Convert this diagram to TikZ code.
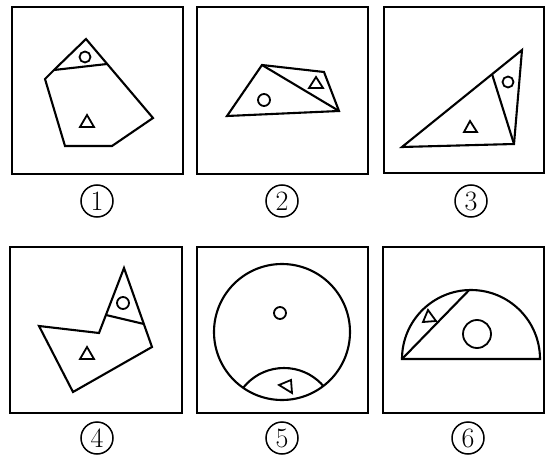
\documentclass[tikz,border=0pt]{standalone}
\begin{document}
\begin{tikzpicture}[x=1pt,y=-1pt,
  frame/.style={line width=2.6pt},
  shp/.style={line width=2.1pt,line join=miter},
  sym/.style={line width=1.8pt},
  lbl/.style={circle,draw,line width=1.5pt,minimum size=32pt,inner sep=0pt,font=\fontsize{28}{28}\selectfont}]
\useasboundingbox (0,0) rectangle (546,457);
% frames
\draw[frame] (12,7) rectangle (183,174);
\draw[frame] (197,7) rectangle (368,174);
\draw[frame] (384,7) rectangle (544,173);
\draw[frame] (10,247) rectangle (182,413);
\draw[frame] (197,247) rectangle (368,413);
\draw[frame] (383,247) rectangle (544,413);
% labels
\node[lbl] (l1) at (97,201) {1};
\node[lbl] (l2) at (282,201) {2};
\node[lbl] (l3) at (471,201) {3};
\node[lbl] (l4) at (97,438) {4};
\node[lbl] (l5) at (282,438) {5};
\node[lbl] (l6) at (468,438) {6};
% panel 1
\draw[shp] (86,39) -- (153,118) -- (112,146) -- (65,146) -- (45,79) -- (54,70) -- cycle;
\draw[shp] (54,70) -- (107,64);
\draw[sym] (85,57) circle (5.5);
\draw[sym] (80,127) -- (94,127) -- (87,115) -- cycle;
% panel 2
\draw[shp] (262,65) -- (324,72) -- (339,111) -- (227,116) -- cycle;
\draw[shp] (262,65) -- (339,111);
\draw[sym] (264,100) circle (6);
\draw[sym] (309,88) -- (323,88) -- (316,77) -- cycle;
% panel 3
\draw[shp] (522,50) -- (514,144) -- (402,147) -- cycle;
\draw[shp] (492,74) -- (514,144);
\draw[sym] (508,82) circle (5.5);
\draw[sym] (464,132) -- (477,132) -- (470,121) -- cycle;
% panel 4
\draw[shp] (124,268) -- (152,347) -- (73,392) -- (39,326) -- (99,333) -- cycle;
\draw[shp] (106,315) -- (144,324);
\draw[sym] (123,303) circle (6);
\draw[sym] (80,359) -- (94,359) -- (87,347) -- cycle;
% panel 5
\draw[shp] (282,332) circle (68);
\begin{scope}
\clip (282,332) circle (68);
\draw[shp] (284,420) circle (52);
\end{scope}
\draw[sym] (280,313) circle (6);
\draw[sym] (279,385) -- (291,380) -- (292,393) -- cycle;
% panel 6
\draw[shp] (540,359) arc[start angle=0,end angle=-180,radius=69] -- cycle;
\draw[shp] (402,359) -- (469.2,290);
\draw[sym] (477,334) circle (14);
\draw[sym] (423,322) -- (436,321) -- (428,310) -- cycle;
\end{tikzpicture}
\end{document}
